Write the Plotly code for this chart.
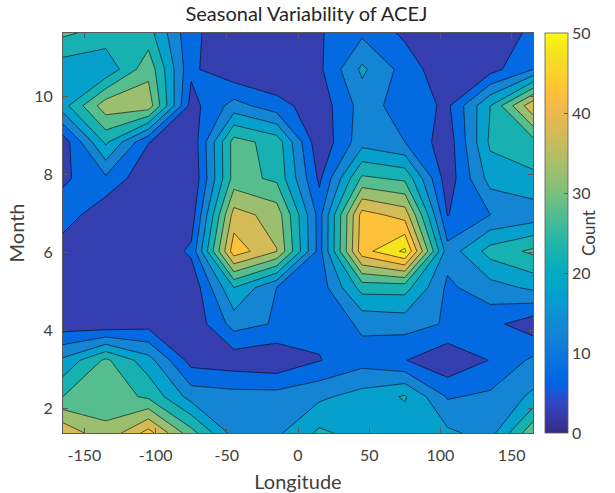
import plotly.graph_objects as go

# ---------------- data ----------------
longitude = [-165, -135, -105, -75, -45, -15, 15, 45, 75, 105, 135, 165]
month = [1.375, 2.307, 3.239, 4.170, 5.102, 6.034, 6.966, 7.898, 8.830, 9.761, 10.693, 11.625]

# counts: one row per month value (bottom to top), one column per longitude
count = [
    [39, 31, 42, 27, 13, 14, 21, 18, 17, 16, 13, 29],
    [25, 28, 24, 13, 12, 12, 14, 17, 20.5, 9.5, 11, 16],
    [16, 26, 17, 3, 2, 1, 4.8, 8, 5.2, 1, 5.2, 11],
    [2, 1, 3, 1, 12, 9.5, 6, 11, 12, 9.5, 6.5, 2],
    [0, 0, 0, 1, 20, 10, 7, 22, 22, 9, 13, 16],
    [2, 0, 0, 6, 43, 35.2, 8, 43, 51, 12, 22, 26],
    [8, 1, 0, 2, 37, 33, 8, 42, 38, 4.8, 10, 12],
    [4, 9, 1, 0, 27, 24, 4, 26, 24, 2, 17, 19],
    [2, 21, 5.2, 1, 27, 23, 1, 13, 10, 2, 21, 23],
    [18, 33, 33, 3, 12, 7, 2, 12, 8, 4, 20, 39],
    [17, 16, 28.5, 6, 1, 0, 4, 16, 8, 1, 3, 10],
    [26, 23, 22, 6, 2, 1, 4.5, 9, 4, 1, 2, 6],
]

x_ticks = [-150, -100, -50, 0, 50, 100, 150]
x_tick_labels = ["-150", "-100", "-50", "0", "50", "100", "150"]
y_ticks = [2, 4, 6, 8, 10]
cbar_ticks = [0, 10, 20, 30, 40, 50]

# ---------------- parula colormap ----------------
PARULA = [
    [0.2081, 0.1663, 0.5292], [0.2116, 0.1898, 0.5777], [0.2123, 0.2138, 0.6270], [0.2081, 0.2386, 0.6771],
    [0.1959, 0.2645, 0.7279], [0.1707, 0.2919, 0.7792], [0.1253, 0.3242, 0.8303], [0.0591, 0.3598, 0.8683],
    [0.0117, 0.3875, 0.8820], [0.0060, 0.4086, 0.8828], [0.0165, 0.4266, 0.8786], [0.0329, 0.4430, 0.8720],
    [0.0498, 0.4586, 0.8641], [0.0629, 0.4737, 0.8554], [0.0723, 0.4887, 0.8467], [0.0779, 0.5040, 0.8384],
    [0.0793, 0.5200, 0.8312], [0.0749, 0.5375, 0.8263], [0.0641, 0.5570, 0.8240], [0.0488, 0.5772, 0.8228],
    [0.0343, 0.5966, 0.8199], [0.0265, 0.6137, 0.8135], [0.0239, 0.6287, 0.8038], [0.0231, 0.6418, 0.7913],
    [0.0228, 0.6535, 0.7768], [0.0267, 0.6642, 0.7607], [0.0384, 0.6743, 0.7436], [0.0590, 0.6838, 0.7254],
    [0.0843, 0.6928, 0.7062], [0.1133, 0.7015, 0.6859], [0.1453, 0.7098, 0.6646], [0.1801, 0.7177, 0.6424],
    [0.2178, 0.7250, 0.6193], [0.2586, 0.7317, 0.5954], [0.3022, 0.7376, 0.5712], [0.3482, 0.7424, 0.5473],
    [0.3953, 0.7459, 0.5244], [0.4420, 0.7481, 0.5033], [0.4871, 0.7491, 0.4840], [0.5300, 0.7491, 0.4661],
    [0.5709, 0.7485, 0.4494], [0.6099, 0.7473, 0.4337], [0.6473, 0.7456, 0.4188], [0.6834, 0.7435, 0.4044],
    [0.7184, 0.7411, 0.3905], [0.7525, 0.7384, 0.3768], [0.7858, 0.7356, 0.3633], [0.8185, 0.7327, 0.3498],
    [0.8507, 0.7299, 0.3360], [0.8824, 0.7274, 0.3217], [0.9139, 0.7258, 0.3063], [0.9450, 0.7261, 0.2886],
    [0.9739, 0.7314, 0.2666], [0.9938, 0.7455, 0.2403], [0.9990, 0.7653, 0.2164], [0.9955, 0.7861, 0.1967],
    [0.9880, 0.8066, 0.1794], [0.9789, 0.8271, 0.1633], [0.9697, 0.8481, 0.1475], [0.9626, 0.8705, 0.1309],
    [0.9589, 0.8949, 0.1132], [0.9598, 0.9218, 0.0948], [0.9661, 0.9514, 0.0755], [0.9763, 0.9831, 0.0538],
]


def parula(t):
    t = min(max(t, 0.0), 1.0)
    pos = t * 63
    i = int(pos)
    if i >= 63:
        c = PARULA[63]
    else:
        f = pos - i
        c = [PARULA[i][k] * (1 - f) + PARULA[i + 1][k] * f for k in range(3)]
    return "rgb(%d,%d,%d)" % tuple(round(v * 255) for v in c)


# contour levels 5..50 step 5 ; each band coloured at its mid value
LEVEL_START, LEVEL_END, LEVEL_STEP = 5, 50, 5
CMIN, CMAX = 0, 50
band_scale = []
for k in range(11):
    col = parula((LEVEL_STEP * k + LEVEL_STEP / 2) / CMAX)
    lo = round(max(0.0, (2 * k - 1) / 20), 4)
    hi = round(min(1.0, (2 * k + 1) / 20), 4)
    band_scale.append([lo, col])
    band_scale.append([hi, col])

cont_scale = [[round(i / 63, 6), parula(i / 63)] for i in range(64)]
cont_scale[-1][0] = 1.0

FONT = "Lato"
TXT = "#404040"
AXC = "#5a5a5a"

fig = go.Figure()
fig.add_trace(go.Contour(
    x=longitude, y=month, z=count,
    colorscale=band_scale,
    autocontour=False,
    contours=dict(start=LEVEL_START, end=LEVEL_END, size=LEVEL_STEP,
                  coloring="fill", showlines=True),
    line=dict(color="black", width=0.6, smoothing=0),
    showscale=False,
    hoverinfo="skip",
))

fig.add_trace(go.Scatter(
    x=[None], y=[None], mode="markers", showlegend=False, hoverinfo="skip",
    marker=dict(
        color=[CMIN], cmin=CMIN, cmax=CMAX, colorscale=cont_scale, showscale=True,
        colorbar=dict(
            thickness=23, thicknessmode="pixels", len=1, lenmode="fraction",
            x=1.0255, xanchor="left", xpad=0, ypad=0, y=0.5, yanchor="middle",
            tickvals=cbar_ticks, ticks="inside", ticklen=4, tickcolor=AXC,
            outlinecolor=AXC, outlinewidth=0.8,
            tickfont=dict(family=FONT, size=16, color=TXT),
            title=dict(text="Count", side="right", font=dict(family=FONT, size=17, color=TXT)),
        ),
    ),
))

fig.update_layout(
    width=615, height=493,
    margin=dict(l=63, r=82, t=33, b=60, autoexpand=False),
    paper_bgcolor="white", plot_bgcolor="white",
    font=dict(family=FONT, color=TXT),
    title=dict(text="Seasonal Variability of ACEJ", x=0.518, xref="paper", xanchor="center",
               y=1 - 14 / 493, yref="container", yanchor="middle",
               font=dict(family=FONT, size=20, color="#262626")),
    xaxis=dict(range=[-165, 165], tickvals=x_ticks, ticktext=x_tick_labels,
               ticks="inside", ticklen=5, tickcolor=AXC,
               showline=True, linecolor=AXC, linewidth=1, mirror="ticks", showgrid=False, zeroline=False,
               automargin=False,
               tickfont=dict(family=FONT, size=16, color=TXT), ticklabelstandoff=8,
               title=dict(text="Longitude", font=dict(family=FONT, size=20, color=TXT), standoff=16)),
    yaxis=dict(range=[1.375, 11.625], tickvals=y_ticks, ticks="inside", ticklen=5, tickcolor=AXC,
               showline=True, linecolor=AXC, linewidth=1, mirror="ticks", showgrid=False, zeroline=False,
               automargin=False,
               tickfont=dict(family=FONT, size=16, color=TXT), ticklabelstandoff=6,
               title=dict(text="Month", font=dict(family=FONT, size=20, color=TXT), standoff=4)),
)

fig.write_html("out.html")
